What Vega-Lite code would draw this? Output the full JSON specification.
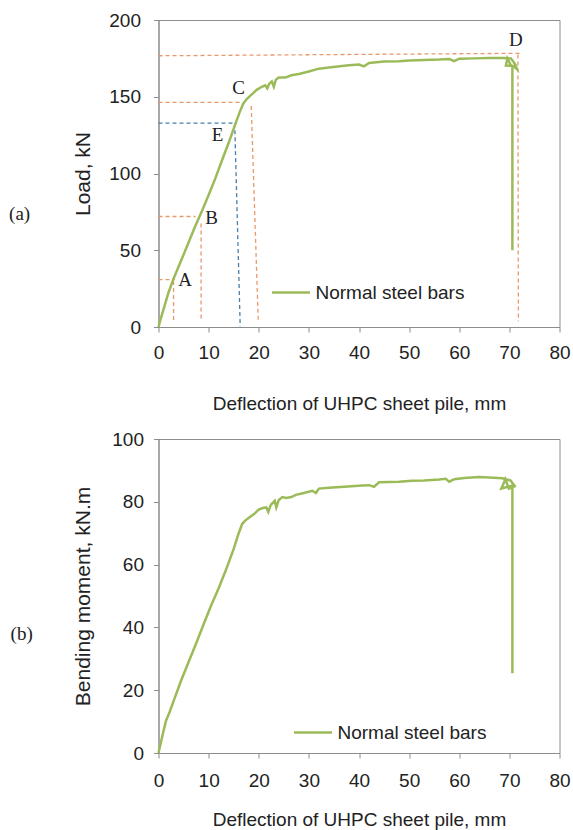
{
  "$schema": "https://vega.github.io/schema/vega-lite/v6.json",
  "background": "white",
  "padding": {"left": 8.5, "top": 10, "right": 5, "bottom": 5},
  "spacing": 15,
  "resolve": {"scale": {"color": "independent"}, "legend": {"color": "independent"}},
  "config": {
    "font": "Liberation Sans",
    "view": {"stroke": "#8c8c8c", "strokeWidth": 1},
    "axis": {
      "grid": false,
      "domainColor": "#8c8c8c",
      "tickColor": "#8c8c8c",
      "tickSize": 5,
      "labelFont": "Liberation Sans",
      "labelFontSize": 19,
      "labelColor": "#222222",
      "labelFlush": false,
      "labelOverlap": false,
      "titleFont": "Liberation Sans",
      "titleFontWeight": "normal",
      "titleColor": "#222222"
    },
    "legend": {
      "orient": "none",
      "title": null,
      "padding": 0,
      "symbolType": "stroke",
      "symbolSize": 1444,
      "symbolStrokeWidth": 2.5,
      "labelFont": "Liberation Sans",
      "labelFontSize": 19,
      "labelColor": "#222222",
      "labelOffset": 4
    }
  },
  "datasets": {
    "load": [
      {"i": 1, "x": 0, "y": 0}, {"i": 2, "x": 0.5, "y": 6}, {"i": 3, "x": 1.0, "y": 11.5}, {"i": 4, "x": 2.0, "y": 22.5},
      {"i": 5, "x": 3.0, "y": 31.5}, {"i": 6, "x": 4.6, "y": 44}, {"i": 7, "x": 6.0, "y": 55}, {"i": 8, "x": 7.3, "y": 65.5},
      {"i": 9, "x": 8.6, "y": 75}, {"i": 10, "x": 10, "y": 86}, {"i": 11, "x": 11.3, "y": 96.5}, {"i": 12, "x": 12.6, "y": 108},
      {"i": 13, "x": 14.0, "y": 120}, {"i": 14, "x": 15.3, "y": 132}, {"i": 15, "x": 16.2, "y": 140}, {"i": 16, "x": 16.9, "y": 145.5},
      {"i": 17, "x": 17.6, "y": 148.5}, {"i": 18, "x": 18.6, "y": 151.5}, {"i": 19, "x": 19.6, "y": 154.5}, {"i": 20, "x": 20.6, "y": 156.5},
      {"i": 21, "x": 21.3, "y": 157.5}, {"i": 22, "x": 21.7, "y": 155.5}, {"i": 23, "x": 22.1, "y": 158.5}, {"i": 24, "x": 22.6, "y": 160},
      {"i": 25, "x": 23.0, "y": 156.5}, {"i": 26, "x": 23.4, "y": 161}, {"i": 27, "x": 24.0, "y": 162.5}, {"i": 28, "x": 25.3, "y": 162.5},
      {"i": 29, "x": 26.5, "y": 164}, {"i": 30, "x": 28, "y": 164.8}, {"i": 31, "x": 30, "y": 166.5}, {"i": 32, "x": 32, "y": 168.3},
      {"i": 33, "x": 34, "y": 169}, {"i": 34, "x": 36.6, "y": 170}, {"i": 35, "x": 38, "y": 170.5}, {"i": 36, "x": 40, "y": 171},
      {"i": 37, "x": 41, "y": 169.8}, {"i": 38, "x": 42, "y": 172}, {"i": 39, "x": 45, "y": 173}, {"i": 40, "x": 48, "y": 173.2},
      {"i": 41, "x": 50, "y": 173.6}, {"i": 42, "x": 53, "y": 174}, {"i": 43, "x": 56, "y": 174.2}, {"i": 44, "x": 58, "y": 174.6},
      {"i": 45, "x": 59, "y": 173.2}, {"i": 46, "x": 60, "y": 174.8}, {"i": 47, "x": 63, "y": 175}, {"i": 48, "x": 66, "y": 175.3},
      {"i": 49, "x": 68.5, "y": 175.3}, {"i": 50, "x": 70.3, "y": 175}, {"i": 51, "x": 71.2, "y": 171}, {"i": 52, "x": 71.5, "y": 168},
      {"i": 53, "x": 70.8, "y": 170}, {"i": 54, "x": 69.3, "y": 170.3}, {"i": 55, "x": 69.6, "y": 175}, {"i": 56, "x": 70.3, "y": 170.5},
      {"i": 57, "x": 70.6, "y": 169.5}, {"i": 58, "x": 70.6, "y": 50}
    ],
    "moment": [
      {"i": 1, "x": 0, "y": 0}, {"i": 2, "x": 0.5, "y": 3.5}, {"i": 3, "x": 1.0, "y": 7}, {"i": 4, "x": 1.5, "y": 10.3},
      {"i": 5, "x": 2.2, "y": 13}, {"i": 6, "x": 3.0, "y": 16.5}, {"i": 7, "x": 4.5, "y": 23}, {"i": 8, "x": 6.0, "y": 29},
      {"i": 9, "x": 7.4, "y": 34.5}, {"i": 10, "x": 9.0, "y": 41}, {"i": 11, "x": 10.5, "y": 47}, {"i": 12, "x": 12, "y": 52.5},
      {"i": 13, "x": 13.5, "y": 58.5}, {"i": 14, "x": 15, "y": 65}, {"i": 15, "x": 16, "y": 70}, {"i": 16, "x": 16.7, "y": 73},
      {"i": 17, "x": 17.3, "y": 74}, {"i": 18, "x": 18.1, "y": 75}, {"i": 19, "x": 19, "y": 76}, {"i": 20, "x": 20, "y": 77.5},
      {"i": 21, "x": 20.8, "y": 78}, {"i": 22, "x": 21.5, "y": 78.2}, {"i": 23, "x": 21.9, "y": 76.8}, {"i": 24, "x": 22.4, "y": 79},
      {"i": 25, "x": 23.2, "y": 80.3}, {"i": 26, "x": 23.5, "y": 78.2}, {"i": 27, "x": 24, "y": 80.6}, {"i": 28, "x": 24.7, "y": 81.5},
      {"i": 29, "x": 25.5, "y": 81.2}, {"i": 30, "x": 26.5, "y": 81.5}, {"i": 31, "x": 27.4, "y": 82.2}, {"i": 32, "x": 29, "y": 82.8},
      {"i": 33, "x": 30.7, "y": 83.5}, {"i": 34, "x": 31.4, "y": 82.8}, {"i": 35, "x": 32, "y": 84.2}, {"i": 36, "x": 34, "y": 84.5},
      {"i": 37, "x": 37, "y": 84.8}, {"i": 38, "x": 40.7, "y": 85.2}, {"i": 39, "x": 42, "y": 85.3}, {"i": 40, "x": 43, "y": 84.8},
      {"i": 41, "x": 44, "y": 86.2}, {"i": 42, "x": 46, "y": 86.3}, {"i": 43, "x": 48, "y": 86.4}, {"i": 44, "x": 50.6, "y": 86.7},
      {"i": 45, "x": 53, "y": 86.8}, {"i": 46, "x": 56, "y": 87.1}, {"i": 47, "x": 57.3, "y": 87.3}, {"i": 48, "x": 58, "y": 86.4},
      {"i": 49, "x": 59, "y": 87.2}, {"i": 50, "x": 61, "y": 87.6}, {"i": 51, "x": 63.9, "y": 87.9}, {"i": 52, "x": 66, "y": 87.7},
      {"i": 53, "x": 68.6, "y": 87.5}, {"i": 54, "x": 70.2, "y": 86.8}, {"i": 55, "x": 71.2, "y": 84.8}, {"i": 56, "x": 70.6, "y": 85.2},
      {"i": 57, "x": 68.4, "y": 84.2}, {"i": 58, "x": 69.2, "y": 87.2}, {"i": 59, "x": 69.9, "y": 84.2}, {"i": 60, "x": 70.6, "y": 84.6},
      {"i": 61, "x": 70.6, "y": 25.4}
    ],
    "guides": [
      {"seg": "A-h", "point": "A", "i": 1, "x": 0, "y": 30.8}, {"seg": "A-h", "point": "A", "i": 2, "x": 3.3, "y": 30.8},
      {"seg": "A-v", "point": "A", "i": 1, "x": 3.0, "y": 30}, {"seg": "A-v", "point": "A", "i": 2, "x": 3.0, "y": 3.5},
      {"seg": "B-h", "point": "B", "i": 1, "x": 0, "y": 72}, {"seg": "B-h", "point": "B", "i": 2, "x": 7.4, "y": 72},
      {"seg": "B-v", "point": "B", "i": 1, "x": 8.5, "y": 67.5}, {"seg": "B-v", "point": "B", "i": 2, "x": 8.5, "y": 3.7},
      {"seg": "C-h", "point": "C", "i": 1, "x": 0, "y": 146.4}, {"seg": "C-h", "point": "C", "i": 2, "x": 16.6, "y": 146.4},
      {"seg": "C-v", "point": "C", "i": 1, "x": 18.5, "y": 144}, {"seg": "C-v", "point": "C", "i": 2, "x": 19.9, "y": 3.7},
      {"seg": "D-h", "point": "D", "i": 1, "x": 0, "y": 176.7}, {"seg": "D-h", "point": "D", "i": 2, "x": 72.3, "y": 178.3},
      {"seg": "D-v", "point": "D", "i": 1, "x": 71.7, "y": 177.5}, {"seg": "D-v", "point": "D", "i": 2, "x": 71.8, "y": 3.7},
      {"seg": "E-h", "point": "E", "i": 1, "x": 0, "y": 132.8}, {"seg": "E-h", "point": "E", "i": 2, "x": 15.2, "y": 132.8},
      {"seg": "E-v", "point": "E", "i": 1, "x": 15.2, "y": 132.8}, {"seg": "E-v", "point": "E", "i": 2, "x": 16.3, "y": 0.4}
    ],
    "letters": [
      {"t": "A", "x": 5.3, "y": 30.8}, {"t": "B", "x": 10.6, "y": 70.9}, {"t": "C", "x": 16.0, "y": 155.5},
      {"t": "D", "x": 71.3, "y": 187}, {"t": "E", "x": 11.8, "y": 125.2}
    ],
    "labelA": [{"t": "(a)", "x": -27.7, "y": 73.7}],
    "labelB": [{"t": "(b)", "x": -27.3, "y": 38}]
  },
  "vconcat": [
    {
      "width": 401,
      "height": 307,
      "encoding": {
        "x": {
          "field": "x", "type": "quantitative",
          "scale": {"domain": [0, 80], "nice": false},
          "axis": {"values": [0, 10, 20, 30, 40, 50, 60, 70, 80], "title": "Deflection of UHPC sheet pile, mm", "titleFontSize": 19, "labelPadding": 11, "titlePadding": 32}
        },
        "y": {
          "field": "y", "type": "quantitative",
          "scale": {"domain": [0, 200], "nice": false},
          "axis": {"values": [0, 50, 100, 150, 200], "title": "Load, kN", "titleFontSize": 21, "labelPadding": 13, "titlePadding": 15.5}
        }
      },
      "layer": [
        {
          "data": {"name": "guides"},
          "transform": [{"filter": "datum.point != 'E'"}],
          "mark": {"type": "line", "color": "#e8996b", "strokeWidth": 1.3, "strokeDash": [4, 3]},
          "encoding": {"detail": {"field": "seg"}, "order": {"field": "i"}}
        },
        {
          "data": {"name": "guides"},
          "transform": [{"filter": "datum.point == 'E'"}],
          "mark": {"type": "line", "color": "#4a7fa8", "strokeWidth": 1.3, "strokeDash": [4, 3]},
          "encoding": {"detail": {"field": "seg"}, "order": {"field": "i"}}
        },
        {
          "data": {"name": "load"},
          "mark": {"type": "line", "strokeWidth": 2.5},
          "encoding": {
            "order": {"field": "i"},
            "color": {"datum": "Normal steel bars", "scale": {"range": ["#9bbb59"]}, "legend": {"legendX": 112, "legendY": 252}}
          }
        },
        {
          "data": {"name": "letters"},
          "mark": {"type": "text", "font": "Liberation Serif", "fontSize": 19, "color": "#222222"},
          "encoding": {"text": {"field": "t"}}
        },
        {
          "data": {"name": "labelA"},
          "mark": {"type": "text", "font": "Liberation Serif", "fontSize": 19, "color": "#222222"},
          "encoding": {"text": {"field": "t"}}
        }
      ]
    },
    {
      "width": 401,
      "height": 314,
      "encoding": {
        "x": {
          "field": "x", "type": "quantitative",
          "scale": {"domain": [0, 80], "nice": false},
          "axis": {"values": [0, 10, 20, 30, 40, 50, 60, 70, 80], "title": "Deflection of UHPC sheet pile, mm", "titleFontSize": 19, "labelPadding": 13, "titlePadding": 20}
        },
        "y": {
          "field": "y", "type": "quantitative",
          "scale": {"domain": [0, 100], "nice": false},
          "axis": {"values": [0, 20, 40, 60, 80, 100], "title": "Bending moment, kN.m", "titleFontSize": 21, "labelPadding": 10, "titlePadding": 18}
        }
      },
      "layer": [
        {
          "data": {"name": "moment"},
          "mark": {"type": "line", "strokeWidth": 2.5},
          "encoding": {
            "order": {"field": "i"},
            "color": {"datum": "Normal steel bars", "scale": {"range": ["#9bbb59"]}, "legend": {"legendX": 134, "legendY": 273}}
          }
        },
        {
          "data": {"name": "labelB"},
          "mark": {"type": "text", "font": "Liberation Serif", "fontSize": 19, "color": "#222222"},
          "encoding": {"text": {"field": "t"}}
        }
      ]
    }
  ]
}
